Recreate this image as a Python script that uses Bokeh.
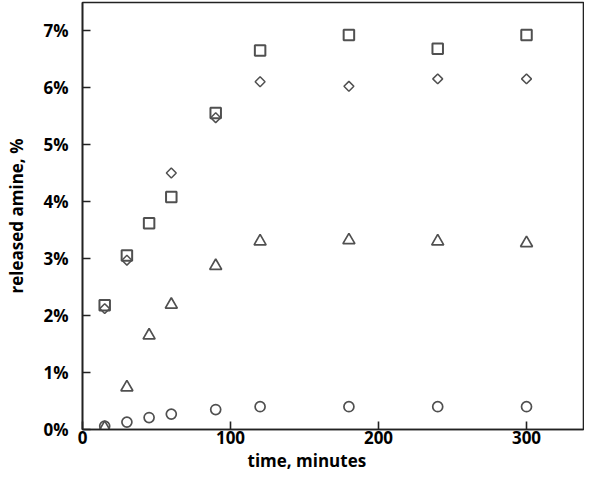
from bokeh.plotting import figure
from bokeh.models import Range1d, FixedTicker, PrintfTickFormatter, Title
from bokeh.embed import file_html
from bokeh.resources import INLINE
import numpy as np

# time, minutes
t_square = [15, 30, 45, 60, 90, 120, 180, 240, 300]
v_square = [2.18, 3.05, 3.62, 4.08, 5.55, 6.65, 6.92, 6.68, 6.92]

t_diamond = [15, 30, 60, 90, 120, 180, 240, 300]
v_diamond = [2.12, 2.97, 4.50, 5.47, 6.10, 6.02, 6.15, 6.15]

t_triangle = [15, 30, 45, 60, 90, 120, 180, 240, 300]
v_triangle = [0.03, 0.74, 1.65, 2.19, 2.87, 3.30, 3.32, 3.30, 3.27]

t_circle = [15, 30, 45, 60, 90, 120, 180, 240, 300]
v_circle = [0.06, 0.13, 0.21, 0.27, 0.35, 0.40, 0.40, 0.40, 0.40]

x_ticks = [0, 100, 200, 300]
y_ticks = [0, 1, 2, 3, 4, 5, 6, 7]

FONT = "Open Sans"
FSIZE = "17px"
MARK = "#505050"
AX = "#222222"

p = figure(width=584, height=478, output_backend="svg", toolbar_location=None,
           x_range=Range1d(0, 338.5), y_range=Range1d(0, 7.49),
           min_border_left=82, min_border_right=1, min_border_top=2, min_border_bottom=49)

p.xgrid.visible = False
p.ygrid.visible = False
p.outline_line_color = AX
p.outline_line_width = 1.6
p.outline_line_alpha = 1.0

for ax in (p.xaxis[0], p.yaxis[0]):
    ax.axis_line_color = AX
    ax.axis_line_width = 1.6
    ax.major_tick_line_color = AX
    ax.major_tick_line_width = 1.6
    ax.major_tick_in = 8
    ax.major_tick_out = 0
    ax.minor_tick_line_color = None
    ax.major_label_text_font = FONT
    ax.major_label_text_font_style = "bold"
    ax.major_label_text_font_size = FSIZE
    ax.major_label_text_color = "black"

p.yaxis.major_label_standoff = 14
p.xaxis.major_label_standoff = 1

p.xaxis.ticker = FixedTicker(ticks=x_ticks)
p.yaxis.ticker = FixedTicker(ticks=y_ticks)
p.yaxis.formatter = PrintfTickFormatter(format="%d%%")

p.yaxis.axis_label = "released amine, %"
p.yaxis.axis_label_text_font = FONT
p.yaxis.axis_label_text_font_style = "bold"
p.yaxis.axis_label_text_font_size = FSIZE
p.yaxis.axis_label_text_color = "black"
p.yaxis.axis_label_standoff = 12

p.add_layout(Title(text="time, minutes", align="left", offset=165, standoff=0,
                   text_font=FONT, text_font_style="bold", text_font_size=FSIZE,
                   text_color="black"), "below")

p.scatter(t_square, v_square, marker="square", size=10.5, fill_color=None,
          line_color=MARK, line_width=2.0)
p.scatter(t_diamond, v_diamond, marker="square", angle=np.pi / 4, size=7, fill_color=None,
          line_color=MARK, line_width=1.5)
p.scatter(t_triangle, v_triangle, marker="triangle", size=12, fill_color=None,
          line_color=MARK, line_width=1.7)
p.scatter(t_circle, v_circle, marker="circle", size=10, fill_color=None,
          line_color=MARK, line_width=1.7)

open("out.html", "w").write(file_html(p, INLINE))
